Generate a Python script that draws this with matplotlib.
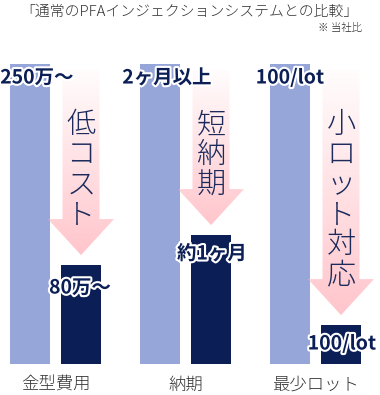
import numpy as np
import matplotlib
matplotlib.use('Agg')
from matplotlib import pyplot as plt
from matplotlib.patches import Polygon
import matplotlib.patheffects as pe

plt.rcParams['font.family'] = ['Noto Sans CJK JP', 'DejaVu Sans']

# Data (relative heights, light bar = 100)
categories = ['金型費用', '納期', '最少ロット']
conventional = [100, 100, 100]
ours = [33, 43, 13]
conv_labels = ['250万〜', '2ヶ月以上', '100/lot']
our_labels = ['80万〜', '約1ヶ月', '100/lot']
arrow_texts = ['低コスト', '短納期', '小ロット対応']

title = '「通常のPFAインジェクションシステムとの比較」'
note = '※ 当社比'

LIGHT = '#97a6d8'
NAVY = '#0b1f56'
TEXT = '#333333'

W, H = 380, 395
fig = plt.figure(figsize=(W / 100, H / 100), dpi=100)

# axes: value 0 at pixel 364, 1 unit = 3 px; group spacing 130 px
base_px = 364
ax = fig.add_axes([0, (H - base_px) / H, 1, base_px / H])
ax.set_axis_off()

px = 130.0                       # pixels per group
x0 = -55.5 / px
x = np.arange(len(categories))
bw = 40 / px
off = 25.5 / px

ax.bar(x - off, conventional, bw, color=LIGHT, zorder=1)
ax.bar(x + off, ours, bw, color=NAVY, zorder=1)

# gradient arrows
shaft = 37 / px
head = 66 / px
head_h = 12
gap = 3.3
top = 98
grad = np.zeros((256, 1, 4))
grad[..., 0] = 1.0
grad[..., 1] = 0.70
grad[..., 2] = 0.73
grad[:, 0, 3] = np.linspace(0.75, 0.03, 256)
for i, v in enumerate(ours):
    cx = i + off
    tip = v + gap
    hb = tip + head_h
    verts = [(cx - shaft / 2, top), (cx + shaft / 2, top), (cx + shaft / 2, hb),
             (cx + head / 2, hb), (cx, tip), (cx - head / 2, hb), (cx - shaft / 2, hb)]
    poly = Polygon(verts, closed=True, facecolor='none', edgecolor='none')
    ax.add_patch(poly)
    im = ax.imshow(grad, extent=[cx - head / 2, cx + head / 2, tip, top],
                   aspect='auto', origin='lower', zorder=2, interpolation='bilinear')
    im.set_clip_path(poly)
    for k, ch in enumerate(arrow_texts[i]):
        ax.text(cx, (base_px - 125 - 30 * k) / 3, ch, ha='center', va='center',
                fontsize=21, fontweight='light', color='#1c2b5c', zorder=3)

outline = [pe.withStroke(linewidth=3, foreground='white')]
conv_dx = [7, 7, 0]
for i, lab in enumerate(conv_labels):
    ax.text(i - off + conv_dx[i] / px, (base_px - 78) / 3, lab, ha='center', va='center',
            fontsize=14, fontweight='bold', color=NAVY, path_effects=outline, zorder=4)
our_dx = [-1, 1, 1]
our_dy = [23, 19, 19]
for i, lab in enumerate(our_labels):
    ax.text(i + off + our_dx[i] / px, ours[i] - our_dy[i] / 3, lab, ha='center', va='center',
            fontsize=14, fontweight='bold', color=NAVY, path_effects=outline, zorder=4)

ax.set_xlim(x0, x0 + W / px)
ax.set_ylim(0, base_px / 3)

# category labels
for i, c in enumerate(categories):
    fig.text((55.5 + px * i) / W, 1 - 385 / H, c, ha='center', va='center',
             fontsize=12.5, fontweight='light', color=TEXT)

fig.text(189 / W, 1 - 12 / H, title, ha='center', va='center', fontsize=10.7,
         fontweight='light', color=TEXT)
fig.text(362 / W, 1 - 28 / H, note, ha='right', va='center', fontsize=7.5,
         fontweight='light', color=TEXT)

fig.savefig('out.png', dpi=100)
